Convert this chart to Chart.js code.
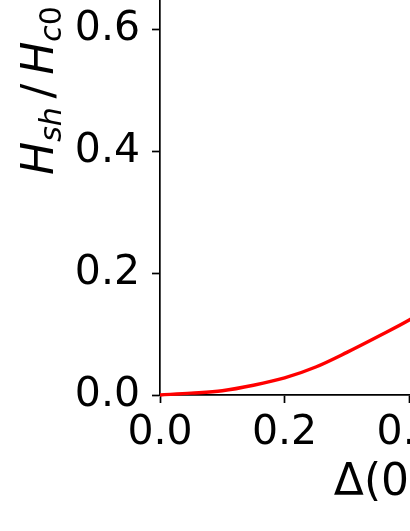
<!DOCTYPE html>
<html>
<head>
<meta charset="utf-8">
<title>Hsh / Hc0</title>
<script src="https://cdn.jsdelivr.net/npm/chart.js@4"></script>
<style>
  html, body { margin: 0; padding: 0; background: #fff; overflow: hidden; }
  body { width: 410px; height: 531px; position: relative; }
  /* the figure is bigger than the window, only its lower left part shows */
  #wrap { position: absolute; left: 0; top: -214px; width: 783px; height: 745px; }
</style>
</head>
<body>
<div id="wrap"><canvas id="chart"></canvas></div>
<script>
const gapValues = [0, 0.05, 0.1, 0.15, 0.2, 0.25, 0.3, 0.35, 0.4, 0.45];
const hshValues = [0, 0.003, 0.007, 0.016, 0.028, 0.046, 0.070, 0.096, 0.123, 0.155];
const tickValues = [0, 0.2, 0.4, 0.6, 0.8, 1.0];

const xTitle = 'Δ(0) / Δ_BCS';
const fontFamily = '"DejaVu Sans", sans-serif';

// y title needs subscripts, so draw it by hand next to the axis
const yTitlePlugin = {
    id: 'yTitle',
    afterDraw(chart) {
        const ctx = chart.ctx;
        const yScale = chart.scales.y;
        const main = 44, sub = 30, drop = 8;
        const parts = [
            { t: 'H', f: `italic ${main}px ${fontFamily}`, dy: 0 },
            { t: 'sh', f: `italic ${sub}px ${fontFamily}`, dy: drop },
            { t: '\u2009/\u2009', f: `${main}px ${fontFamily}`, dy: 0 },
            { t: 'H', f: `italic ${main}px ${fontFamily}`, dy: 0 },
            { t: 'c', f: `italic ${sub}px ${fontFamily}`, dy: drop },
            { t: '0', f: `${sub}px ${fontFamily}`, dy: drop }
        ];
        ctx.save();
        let total = 0;
        parts.forEach(p => {
            ctx.font = p.f;
            p.w = ctx.measureText(p.t).width;
            total += p.w;
        });
        ctx.translate(yScale.right - 107, (yScale.top + yScale.bottom) / 2);
        ctx.rotate(-Math.PI / 2);
        ctx.fillStyle = '#000';
        ctx.textBaseline = 'alphabetic';
        ctx.textAlign = 'left';
        let x = -total / 2;
        parts.forEach(p => {
            ctx.font = p.f;
            ctx.fillText(p.t, x, p.dy);
            x += p.w;
        });
        ctx.restore();
    }
};

function axisOptions(extra) {
    return Object.assign({
        type: 'linear',
        min: 0,
        max: 1,
        afterBuildTicks: scale => {
            scale.ticks = tickValues.map(v => ({ value: v }));
        },
        ticks: {
            color: '#000',
            font: { family: fontFamily, size: 41 },
            callback: v => Number(v).toFixed(1),
            maxRotation: 0,
            autoSkip: false
        },
        grid: {
            drawOnChartArea: false,
            drawTicks: true,
            tickLength: 8,
            tickWidth: 1.7,
            tickColor: '#000'
        },
        border: { color: '#000', width: 1.7 }
    }, extra);
}

const xAxis = axisOptions({
    position: 'bottom',
    title: {
        display: true,
        text: xTitle,
        color: '#000',
        font: { family: fontFamily, size: 44, lineHeight: 1 },
        padding: { top: 0, bottom: 25 }
    },
    afterFit: scale => {
        scale.height = 136;
        scale.paddingLeft = 0;
        scale.paddingRight = 0;
    }
});
xAxis.ticks.padding = 6;

const yAxis = axisOptions({
    position: 'left',
    afterFit: scale => {
        scale.width = 160;
        scale.paddingTop = 0;
        scale.paddingBottom = 0;
    }
});
yAxis.ticks.padding = 12;

new Chart(document.getElementById('chart'), {
    type: 'line',
    data: {
        datasets: [{
            data: gapValues.map((g, i) => ({ x: g, y: hshValues[i] })),
            borderColor: '#ff0000',
            borderWidth: 3.4,
            pointRadius: 0,
            fill: false,
            cubicInterpolationMode: 'monotone',
            clip: false
        }]
    },
    options: {
        responsive: true,
        maintainAspectRatio: false,
        animation: false,
        layout: { padding: 0 },
        plugins: {
            legend: { display: false },
            tooltip: { enabled: false }
        },
        scales: { x: xAxis, y: yAxis }
    },
    plugins: [yTitlePlugin]
});
</script>
</body>
</html>
